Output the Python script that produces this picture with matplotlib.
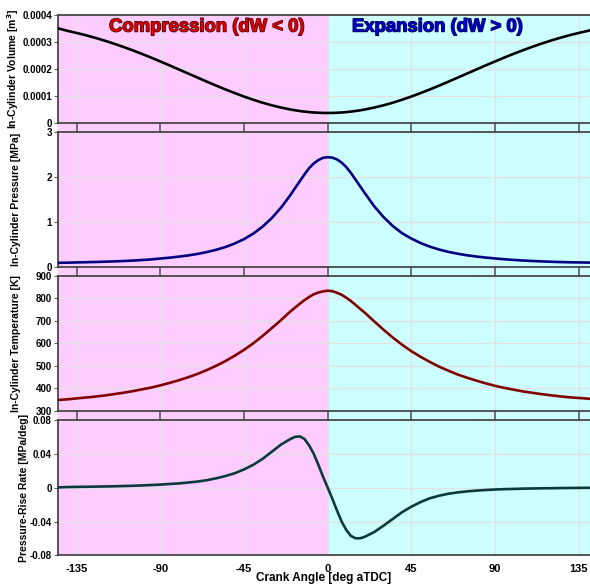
import matplotlib
matplotlib.use("Agg")
import matplotlib.pyplot as plt
import matplotlib.patheffects as pe
import matplotlib.transforms as mtransforms
from matplotlib.patches import Rectangle

plt.rcParams['font.family'] = ['Liberation Sans', 'DejaVu Sans']
plt.rcParams['font.weight'] = 'bold'
plt.rcParams['axes.unicode_minus'] = False

# crank angle [deg aTDC]
theta = [-145, -140, -135, -130, -125, -120, -115, -110, -105, -100, -95, -90, -85,
         -80, -75, -70, -65, -60, -55, -50, -45, -40, -35, -30, -25, -20,
         -17.5, -15, -12.5, -10, -7.5, -5, -2.5, 0, 2.5, 5, 7.5, 10, 12.5, 15, 17.5,
         20, 25, 30, 35, 40, 45, 50, 55, 60, 65, 70, 75, 80, 85, 90, 95, 100, 105,
         110, 115, 120, 125, 130, 135, 140, 141]

# in-cylinder volume in units of 1e-4 m^3
volume_e4 = [3.49, 3.40, 3.32, 3.235, 3.14, 3.037, 2.925, 2.806, 2.68, 2.548, 2.409,
             2.266, 2.119, 1.969, 1.818, 1.668, 1.518, 1.372, 1.23, 1.095, 0.966,
             0.847, 0.738, 0.641, 0.557, 0.486,
             0.457, 0.431, 0.409, 0.390, 0.376, 0.366, 0.360, 0.358, 0.360, 0.366,
             0.376, 0.390, 0.409, 0.431, 0.457,
             0.486, 0.557, 0.641, 0.738, 0.847, 0.966, 1.095, 1.23, 1.372, 1.518,
             1.668, 1.818, 1.969, 2.119, 2.266, 2.409, 2.548, 2.68, 2.806, 2.925,
             3.037, 3.14, 3.235, 3.32, 3.398, 3.42]

pressure = [0.090, 0.094, 0.099, 0.104, 0.109, 0.115, 0.122, 0.130, 0.140, 0.152,
            0.166, 0.186, 0.205, 0.228, 0.255, 0.288, 0.330, 0.380, 0.442, 0.520,
            0.617, 0.740, 0.895, 1.088, 1.322, 1.600,
            1.755, 1.905, 2.055, 2.195, 2.300, 2.375, 2.425, 2.44, 2.43, 2.39, 2.32,
            2.22, 2.09, 1.94, 1.79,
            1.64, 1.35, 1.11, 0.91, 0.75, 0.63, 0.53, 0.45, 0.385, 0.333, 0.292,
            0.258, 0.230, 0.207, 0.188, 0.170, 0.155, 0.142, 0.131, 0.122, 0.114,
            0.108, 0.103, 0.099, 0.096, 0.095]

temperature = [347, 350, 354, 358, 362, 367, 373, 379, 386, 394, 402, 412, 423, 435,
               448, 463, 480, 499, 520, 544, 570, 599, 632, 667, 703, 741,
               758, 775, 791, 805, 817, 825, 830, 833, 831, 824, 815, 802, 787, 770,
               752,
               735, 697, 660, 625, 593, 564, 539, 516, 495, 477, 460, 446, 433, 421,
               410, 401, 393, 385, 379, 373, 368, 363, 359, 356, 353, 352]

dpdtheta = [0.0003, 0.0007, 0.0009, 0.0010, 0.0012, 0.0014, 0.0016, 0.0019, 0.0022,
            0.0026, 0.0031, 0.0036, 0.0043, 0.0050, 0.0060, 0.0072, 0.0088, 0.011,
            0.0137, 0.017, 0.0215, 0.027, 0.034, 0.0425, 0.051, 0.0575,
            0.0600, 0.0605, 0.0575, 0.050, 0.040, 0.027, 0.013, 0.000, -0.013,
            -0.027, -0.040, -0.050, -0.057, -0.0598, -0.0598,
            -0.058, -0.0525, -0.045, -0.037, -0.029, -0.0225, -0.017, -0.0125,
            -0.0095, -0.0072, -0.0056, -0.0044, -0.0035, -0.0028, -0.0022, -0.0018,
            -0.0015, -0.0012, -0.0010, -0.0008, -0.0007, -0.0005, -0.0004, -0.0003,
            -0.0002, -0.0002]

volume = [v * 1e-4 for v in volume_e4]

xticks = [-135, -90, -45, 0, 45, 90, 135]

panels = [
    (volume, 'black', 'In-Cylinder Volume [m$^\\mathbf{3}$]',
     [0, 0.0001, 0.0002, 0.0003, 0.0004], ['0', '0.0001', '0.0002', '0.0003', '0.0004']),
    (pressure, '#000080', 'In-Cylinder Pressure [MPa]',
     [0, 1, 2, 3], ['0', '1', '2', '3']),
    (temperature, '#800000', 'In-Cylinder Temperature [K]',
     [300, 400, 500, 600, 700, 800, 900], ['300', '400', '500', '600', '700', '800', '900']),
    (dpdtheta, '#0a3a3a', 'Pressure-Rise Rate [MPa/deg]',
     [-0.08, -0.04, 0, 0.04, 0.08], ['-0.08', '-0.04', '0', '0.04', '0.08']),
]

# axes boxes in figure fraction [left, bottom, width, height]
boxes = [
    [0.0975, 0.790, 0.9025, 0.185],
    [0.0975, 0.543, 0.9025, 0.231],
    [0.0975, 0.297, 0.9025, 0.231],
    [0.0975, 0.049, 0.9025, 0.232],
]

fig = plt.figure(figsize=(5.9, 5.84), dpi=100)
axes = []
for i, (y, color, label, yt, ytl) in enumerate(panels):
    ax = fig.add_axes(boxes[i])
    ax.set_facecolor('none')
    ax.plot(theta, y, color=color, linewidth=1.9, zorder=3)
    ax.set_xlim(-145.3, 141.1)
    ax.set_ylim(yt[0], yt[-1])
    ax.set_xticks(xticks)
    ax.set_yticks(yt)
    ax.set_yticklabels(ytl)
    ax.grid(True, color='#e2e2e2', linewidth=1.0, zorder=1)
    ax.set_axisbelow(True)
    for s in ['top', 'bottom', 'left']:
        ax.spines[s].set_color('#3a3a3a')
        ax.spines[s].set_linewidth(1.2)
    ax.spines['right'].set_visible(False)
    ax.tick_params(axis='y', direction='out', length=3, color='#606070',
                   labelsize=7, pad=1)
    ax.set_ylabel(label, fontsize=7.5, fontweight='bold')
    ax.yaxis.set_label_coords(-0.068 if i < 3 else -0.053, 0.5)
    if i < 3:
        ax.tick_params(axis='x', direction='out', length=6.5, width=1.3,
                       color='#6a6070', labelbottom=False)
    else:
        ax.tick_params(axis='x', length=0, labelsize=8, pad=6)
        ax.set_xlabel('Crank Angle [deg aTDC]', fontsize=8.5, fontweight='bold',
                      labelpad=-1)
    axes.append(ax)

# background shading behind all panels and the gaps between them
trans = mtransforms.blended_transform_factory(axes[0].transData, fig.transFigure)
y0 = boxes[3][1]
y1 = boxes[0][1] + boxes[0][3]
fig.patches.append(Rectangle((-145.3, y0), 145.3, y1 - y0, transform=trans,
                             facecolor='#ffccff', edgecolor='none', zorder=-5))
fig.patches.append(Rectangle((0, y0), 141.1, y1 - y0, transform=trans,
                             facecolor='#ccffff', edgecolor='none', zorder=-5))

tt = axes[0].get_xaxis_transform()
axes[0].text(-65, 0.885, 'Compression (dW < 0)', transform=tt, ha='center',
             va='center', fontsize=13.3, fontweight='bold', color='#dd0000', zorder=5,
             path_effects=[pe.Stroke(linewidth=1.0, foreground='#3a0000'), pe.Normal()])
axes[0].text(59, 0.885, 'Expansion (dW > 0)', transform=tt, ha='center',
             va='center', fontsize=13.3, fontweight='bold', color='#0000cc', zorder=5,
             path_effects=[pe.Stroke(linewidth=1.0, foreground='#00003a'), pe.Normal()])

fig.savefig('out.png', dpi=100)
